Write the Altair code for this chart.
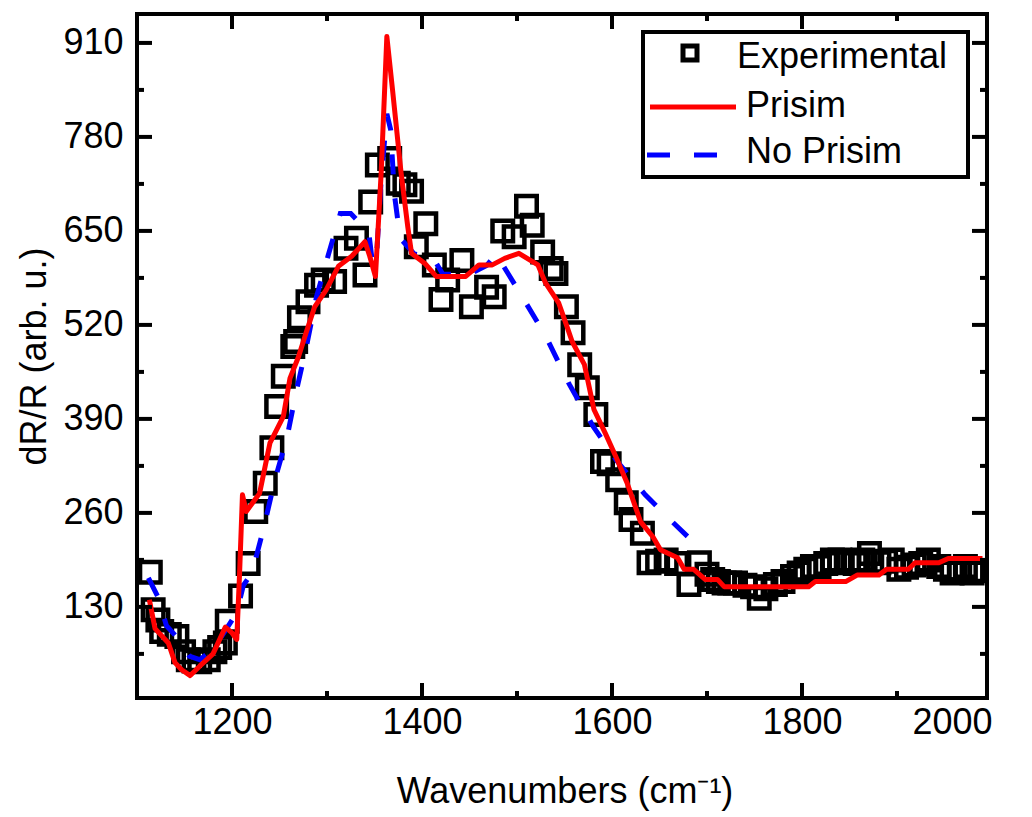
import altair as alt
import pandas as pd

# ---------------- data ----------------
exp_x = [1114, 1117, 1122, 1126, 1134, 1142, 1149, 1154, 1160, 1166, 1175, 1182, 1187, 1193,
         1195, 1209, 1217, 1225, 1235, 1242, 1247, 1254, 1264, 1267, 1271, 1280, 1289, 1296,
         1308, 1320, 1331, 1340, 1346, 1353, 1366, 1375, 1382, 1389, 1394, 1404, 1413, 1420,
         1427, 1442, 1452, 1468, 1476, 1485, 1497, 1510, 1516, 1527, 1536, 1541, 1552, 1559,
         1566, 1574, 1583, 1590, 1597, 1606, 1615, 1620, 1632, 1639, 1648, 1657, 1668, 1681,
         1692, 1700, 1706, 1712, 1718, 1724, 1730, 1740, 1748, 1755, 1762, 1772, 1780, 1790,
         1797, 1804, 1811, 1818, 1825, 1832, 1840, 1849, 1856, 1864, 1871, 1881, 1888, 1895,
         1902, 1910, 1918, 1925, 1933, 1944, 1951, 1958, 1966, 1972, 1979, 1983]
exp_y = [178, 126, 112, 96, 92, 89, 68, 57, 55, 54, 57, 68, 74, 80,
         110, 145, 190, 262, 301, 350, 407, 449, 490, 497, 530, 552, 575, 582,
         580, 626, 640, 589, 690, 741, 750, 716, 714, 705, 628, 660, 603, 555,
         582, 609, 545, 572, 559, 650, 642, 684, 658, 621, 598, 591, 545, 509,
         465, 433, 396, 331, 328, 306, 274, 251, 232, 191, 193, 195, 190, 161,
         191, 175, 168, 165, 163, 163, 163, 160, 158, 142, 155, 161, 165, 172,
         177, 182, 186, 186, 190, 195, 195, 191, 190, 195, 204, 191, 193, 195,
         182, 185, 188, 190, 195, 186, 182, 177, 182, 186, 177, 180]

prism_x = [1113, 1119, 1133, 1140, 1147, 1156, 1166, 1180, 1193, 1200, 1205, 1208, 1211,
           1215, 1229, 1240, 1254, 1261, 1270, 1278, 1287, 1299, 1312, 1326, 1340, 1345,
           1351, 1357, 1363, 1369, 1378, 1385, 1389, 1403, 1415, 1446, 1460, 1474, 1487,
           1502, 1522, 1530, 1544, 1552, 1558, 1571, 1581, 1593, 1604, 1616, 1630, 1643,
           1651, 1669, 1676, 1686, 1698, 1711, 1718, 1807, 1814, 1846, 1858, 1881, 1889,
           1912, 1919, 1944, 1954, 1990]
prism_y = [140, 100, 80, 53, 43, 35, 48, 65, 102, 94, 85, 177, 285,
           262, 287, 357, 393, 446, 476, 509, 545, 568, 601, 615, 635, 615,
           587, 730, 919, 845, 730, 656, 619, 605, 587, 587, 603, 603, 612,
           619, 603, 578, 550, 520, 497, 465, 403, 370, 338, 301, 248, 227,
           209, 198, 182, 182, 168, 168, 158, 158, 165, 165, 174, 174, 182,
           182, 191, 191, 197, 197]

noprism_x = [1112, 1122, 1131, 1142, 1155, 1166, 1179, 1192, 1205, 1212, 1221, 1233, 1245,
             1258, 1268, 1278, 1289, 1301, 1314, 1325, 1344, 1348, 1352, 1357, 1363, 1367,
             1371, 1377, 1392, 1411, 1422, 1450, 1468, 1478, 1505, 1530, 1555, 1580, 1605,
             1635, 1660, 1687]
noprism_y = [170, 144, 104, 88, 62, 57, 70, 95, 122, 160, 177, 237, 305,
             365, 430, 488, 559, 615, 674, 674, 648, 604, 612, 720, 812, 790,
             700, 640, 618, 614, 590, 590, 602, 618, 560, 505, 438, 380, 332,
             285, 252, 218]

y_major = [130, 260, 390, 520, 650, 780, 910]
y_minor = [65, 195, 325, 455, 585, 715, 845]
x_major = [1200, 1400, 1600, 1800]
x_minor = [1300, 1500, 1700, 1900]
x_labels = [1200, 1400, 1600, 1800, 2000]

legend_labels = ["Experimental", "Prisim", "No Prisim"]

# ---------------- chart ----------------
FONT = "Liberation Sans, Arial, Helvetica, sans-serif"
W, H = 850, 684
FS = 36

xscale = alt.Scale(domain=[1100, 2000], range=[0, 855], nice=False, zero=False)
yscale = alt.Scale(domain=[4, 950], nice=False, zero=False)

xaxis = alt.Axis(values=x_labels, title="Wavenumbers (cm⁻¹)", ticks=False, tickSize=0,
                 domain=False, grid=False, labelPadding=7, titlePadding=34, format="d")
yaxis = alt.Axis(values=y_major, title="dR/R (arb. u.)", ticks=False, tickSize=0,
                 domain=False, grid=False, labelPadding=14, titlePadding=9, format="d")

X = lambda: alt.X("x:Q", scale=xscale, axis=xaxis)
Y = lambda: alt.Y("y:Q", scale=yscale, axis=yaxis)

exp_df = pd.DataFrame({"x": exp_x, "y": exp_y})
pr_df = pd.DataFrame({"x": prism_x, "y": prism_y})
np_df = pd.DataFrame({"x": noprism_x, "y": noprism_y})

squares = alt.Chart(exp_df).mark_point(
    shape="square", filled=False, size=420, strokeWidth=4.5, color="black", opacity=1
).encode(x=X(), y=Y())

red = alt.Chart(pr_df).mark_line(color="#ff0000", strokeWidth=5, strokeJoin="round").encode(
    x=X(), y=Y(), order="x:Q")

blue = alt.Chart(np_df).mark_line(color="#0000ff", strokeWidth=5, strokeDash=[20, 24]).encode(
    x=X(), y=Y(), order="x:Q")

def yticks(vals, length, right=False):
    df = pd.DataFrame({"y": vals})
    x0 = W if right else 0
    x1 = W - length if right else length
    return alt.Chart(df).mark_rule(color="black", strokeWidth=4).encode(
        y=Y(), x=alt.value(x0), x2=alt.value(x1))

def xticks(vals, length, top=False):
    df = pd.DataFrame({"x": vals})
    y0 = 0 if top else H
    y1 = length if top else H - length
    return alt.Chart(df).mark_rule(color="black", strokeWidth=4).encode(
        x=X(), y=alt.value(y0), y2=alt.value(y1))

tick_layers = [
    yticks(y_major, 15), yticks(y_minor, 7),
    yticks(y_major, 15, right=True), yticks(y_minor, 7, right=True),
    xticks(x_major, 15), xticks(x_minor, 7),
    xticks(x_major, 15, top=True), xticks(x_minor, 7, top=True),
]

one = pd.DataFrame({"a": [0]})
leg_box = alt.Chart(one).mark_rect(fill="white", stroke="black", strokeWidth=4).encode(
    x=alt.value(506), x2=alt.value(831), y=alt.value(18), y2=alt.value(163))
leg_sq = alt.Chart(one).mark_point(shape="square", filled=False, size=196, strokeWidth=5,
                                   color="black", opacity=1).encode(
    x=alt.value(553), y=alt.value(39))
leg_red = alt.Chart(one).mark_rule(color="#ff0000", strokeWidth=5).encode(
    x=alt.value(513), x2=alt.value(599), y=alt.value(93))
leg_blue = alt.Chart(one).mark_rule(color="#0000ff", strokeWidth=5, strokeDash=[23, 24]).encode(
    x=alt.value(510), x2=alt.value(580), y=alt.value(141))

def leg_text(txt, x, y):
    return alt.Chart(one).mark_text(align="left", baseline="alphabetic", fontSize=FS,
                                    font=FONT, color="black").encode(
        x=alt.value(x), y=alt.value(y), text=alt.value(txt))

legend = [leg_box, leg_sq, leg_red, leg_blue,
          leg_text(legend_labels[0], 600, 54),
          leg_text(legend_labels[1], 609, 103),
          leg_text(legend_labels[2], 609, 149)]

chart = alt.layer(squares, blue, red, *tick_layers, *legend).properties(
    width=W, height=H,
    padding={"left": 137, "top": 14, "right": 45, "bottom": 119},
    autosize=alt.AutoSizeParams(type="none"),
    background="white",
).configure_view(stroke="black", strokeWidth=4).configure_axis(
    labelFont=FONT, titleFont=FONT, labelFontSize=FS, titleFontSize=FS,
    titleFontWeight="normal", labelColor="black", titleColor="black",
)

chart.save("out.html", embed_options={"renderer": "svg", "actions": False})
